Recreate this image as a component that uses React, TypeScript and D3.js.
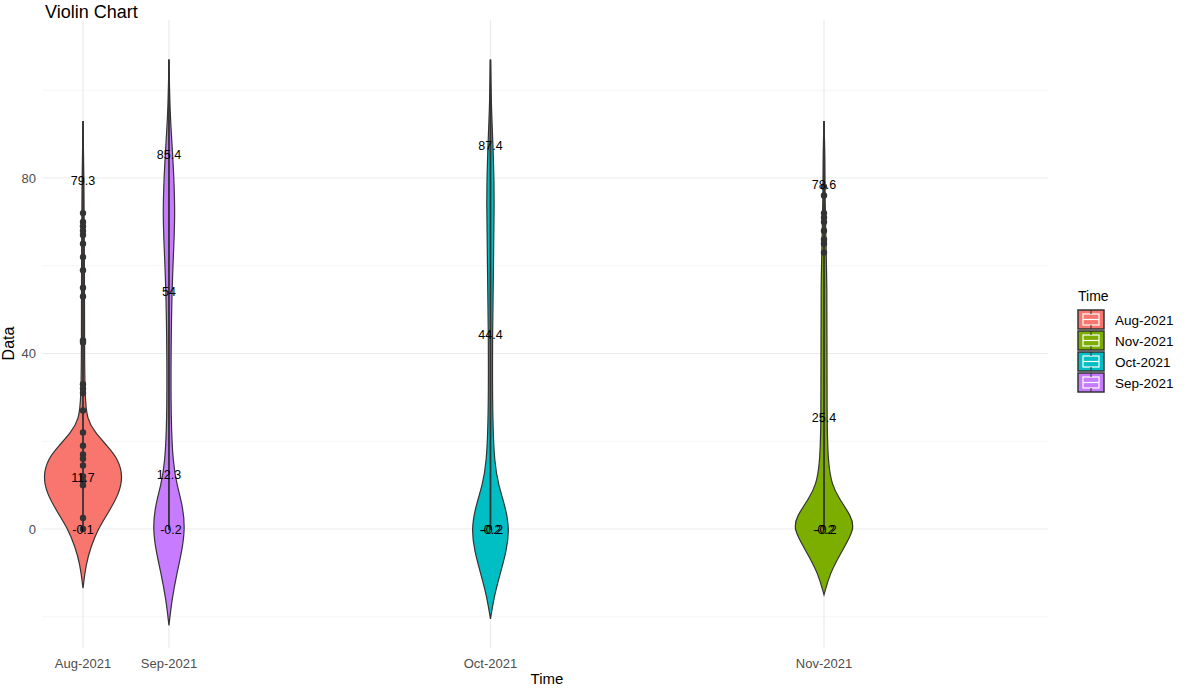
import * as d3 from 'd3';

const WIDTH = 1195;
const HEIGHT = 690;
const PANEL = { left: 42, right: 1048, top: 20, bottom: 648 };

const categories = ['Aug-2021', 'Sep-2021', 'Oct-2021', 'Nov-2021'];
// position of each month on the (uneven) time axis
const categoryPos = [1, 2, 5.74, 9.62];
const colors = ['#F8766D', '#C77CFF', '#00BFC4', '#7CAE00'];
const legendOrder = ['Aug-2021', 'Nov-2021', 'Oct-2021', 'Sep-2021'];
const legendColors = ['#F8766D', '#7CAE00', '#00BFC4', '#C77CFF'];

// density outline: [value, relative half-width]
const violins: [number, number][][] = [
  [[-13.5, 0], [-8, 3], [-4, 8], [0, 15], [4, 26], [8, 36], [12, 40], [16, 35], [19, 24], [22, 12], [25, 4], [30, 2], [40, 1.5], [60, 1.5], [80, 1], [93, 0]],
  [[-22, 0], [-16, 3], [-10, 8], [-5, 13], [0, 16], [5, 14], [10, 8], [15, 4], [25, 2], [40, 2], [55, 3], [65, 5], [72, 6], [80, 5], [88, 3], [95, 1], [107, 0]],
  [[-20.5, 0], [-15, 4], [-10, 10], [-5, 16], [0, 19], [5, 15], [10, 8], [15, 4], [25, 2], [45, 2], [60, 3], [75, 4], [85, 3], [95, 1], [107, 0]],
  [[-15, 0], [-10, 6], [-5, 18], [0, 31], [3, 27], [7, 15], [10, 8], [15, 4], [25, 3], [40, 3], [55, 3], [65, 2], [75, 1], [85, 1], [93, 0]],
];

const boxRanges: [number, number][] = [[-0.1, 93], [-0.2, 107], [-0.2, 107], [-0.2, 93]];

const points: number[][] = [
  [72, 70, 69, 68, 67, 65, 62, 59, 55, 53, 43, 42.5, 33, 32, 31, 27, 22, 19, 17, 16, 14.5, 12, 11, 10, 2.5, 0],
  [],
  [],
  [78, 76, 72, 71, 70, 68, 66, 65, 63],
];

const labels: number[][] = [
  [79.3, 11.7, -0.1],
  [85.4, 54, 12.3, -0.2],
  [87.4, 44.4, -0.2, -0.2],
  [78.6, 25.4, -0.2, -0.2],
];

const yTicks = [0, 40, 80];
const yMinor = [-20, 20, 60, 100];

export default function App() {
  const y = d3.scaleLinear().domain([0, 80]).range([529, 178]);
  const x = d3.scaleLinear().domain([1, 9.62]).range([83, 824]);
  const font = 'Liberation Sans, Arial, sans-serif';

  return (
    <svg width={WIDTH} height={HEIGHT} style={{ position: 'absolute', left: 0, top: 0, background: '#fff' }}>
      {yMinor.map((t) => (
        <line key={'m' + t} x1={PANEL.left} x2={PANEL.right} y1={y(t)} y2={y(t)} stroke="#f2f2f2" strokeWidth={0.8} />
      ))}
      {yTicks.map((t) => (
        <line key={'g' + t} x1={PANEL.left} x2={PANEL.right} y1={y(t)} y2={y(t)} stroke="#ebebeb" strokeWidth={1.2} />
      ))}
      {categoryPos.map((p, i) => (
        <line key={'v' + i} x1={x(p)} x2={x(p)} y1={PANEL.top} y2={PANEL.bottom} stroke="#ebebeb" strokeWidth={1.2} />
      ))}
      {violins.map((v, i) => {
        const cx = x(categoryPos[i]);
        const area = d3
          .area<[number, number]>()
          .y((d) => y(d[0]))
          .x0((d) => cx - d[1])
          .x1((d) => cx + d[1])
          .curve(d3.curveBasis);
        return <path key={'vi' + i} d={area(v) || ''} fill={colors[i]} stroke="#333" strokeWidth={1.2} />;
      })}
      {boxRanges.map((r, i) => (
        <line key={'b' + i} x1={x(categoryPos[i])} x2={x(categoryPos[i])} y1={y(r[0])} y2={y(r[1])} stroke="#333" strokeWidth={1.8} />
      ))}
      {points.map((ps, i) =>
        ps.map((p, j) => <circle key={'p' + i + j} cx={x(categoryPos[i])} cy={y(p)} r={3.2} fill="#333" />)
      )}
      {labels.map((ls, i) =>
        ls.map((l, j) => (
          <text key={'l' + i + j} x={x(categoryPos[i]) + (j === 3 ? 2 : 0)} y={y(l)} dy="0.35em" textAnchor="middle" fontFamily={font} fontSize={12.5} fill="#000">
            {l}
          </text>
        ))
      )}
      {yTicks.map((t) => (
        <text key={'yt' + t} x={36} y={y(t)} dy="0.35em" textAnchor="end" fontFamily={font} fontSize={13} fill="#4d4d4d">
          {t}
        </text>
      ))}
      {categories.map((c, i) => (
        <text key={'xt' + i} x={x(categoryPos[i])} y={668} textAnchor="middle" fontFamily={font} fontSize={13} fill="#4d4d4d">
          {c}
        </text>
      ))}
      <text x={547} y={684} textAnchor="middle" fontFamily={font} fontSize={15} fill="#000">Time</text>
      <text transform={`translate(14,${y(40) - 10}) rotate(-90)`} textAnchor="middle" fontFamily="Liberation Sans Narrow, Arial Narrow, sans-serif" fontSize={16} fill="#000">
        Data
      </text>
      <text x={45} y={18} fontFamily={font} fontSize={18} fill="#000">Violin Chart</text>
      <text x={1078} y={301} fontFamily={font} fontSize={14} fill="#000">Time</text>
      {legendOrder.map((c, i) => {
        const ty = 310 + i * 21;
        return (
          <g key={'lg' + i}>
            <rect x={1078} y={ty} width={26} height={19} fill={legendColors[i]} stroke="#333" strokeWidth={1.5} />
            <rect x={1083} y={ty + 4} width={16} height={11} fill="none" stroke="#fff" strokeWidth={1.2} />
            <line x1={1083} x2={1099} y1={ty + 9.5} y2={ty + 9.5} stroke="#fff" strokeWidth={1.2} />
            <line x1={1091} x2={1091} y1={ty} y2={ty + 4} stroke="#333" />
            <line x1={1091} x2={1091} y1={ty + 15} y2={ty + 19} stroke="#333" />
            <text x={1115} y={ty + 10} dy="0.35em" fontFamily={font} fontSize={13.5} fill="#000">{c}</text>
          </g>
        );
      })}
    </svg>
  );
}
